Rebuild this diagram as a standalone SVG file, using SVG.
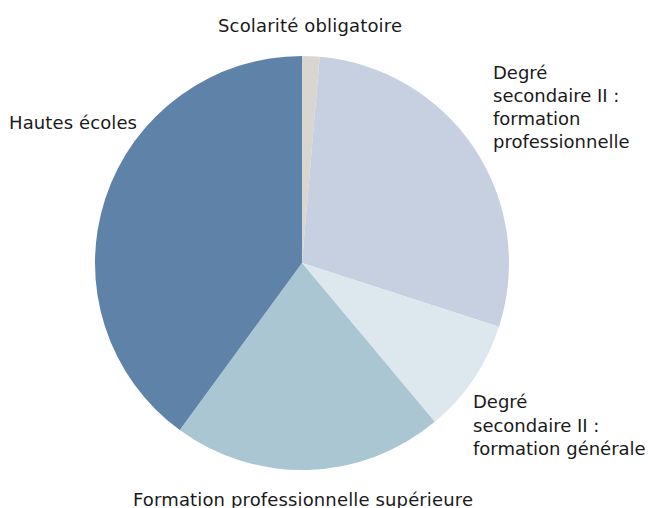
<svg xmlns="http://www.w3.org/2000/svg" width="648" height="508" viewBox="0 0 648 508">
<style>
text{font-family:"DejaVu Sans","Liberation Sans",Arial,sans-serif;font-size:18px;fill:#1a1a1a}
</style>
<rect width="648" height="508" fill="#ffffff"/>
<g id="pie">
<g id="scolarite"><path d="M302,263 L302,56 A207,207 0 0 1 319.68,56.76 Z" fill="#D9D6D2"/></g>
<g id="sec-prof"><path d="M302,263 L319.68,56.76 A207,207 0 0 1 498.98,326.63 Z" fill="#C6D0E1"/></g>
<g id="sec-gen"><path d="M302,263 L498.98,326.63 A207,207 0 0 1 434.77,421.81 Z" fill="#DCE7EE"/></g>
<g id="prof-sup"><path d="M302,263 L434.77,421.81 A207,207 0 0 1 179.75,430.05 Z" fill="#AAC6D2"/></g>
<g id="hautes"><path d="M302,263 L179.75,430.05 A207,207 0 0 1 302,56 Z" fill="#5F82A8"/></g>
</g>
<g id="labels">
<text x="218" y="31.5" textLength="184" lengthAdjust="spacing">Scolarité obligatoire</text>
<text x="9" y="128.5" textLength="128" lengthAdjust="spacing">Hautes écoles</text>
<text x="493"><tspan x="493" y="79">Degré</tspan><tspan x="493" y="102">secondaire II :</tspan><tspan x="493" y="125">formation</tspan><tspan x="493" y="148">professionnelle</tspan></text>
<text x="473"><tspan x="473" y="408">Degré</tspan><tspan x="473" y="431.5">secondaire II :</tspan><tspan x="473" y="455">formation générale</tspan></text>
<text x="133" y="506" textLength="340" lengthAdjust="spacing">Formation professionnelle supérieure</text>
</g>
</svg>
